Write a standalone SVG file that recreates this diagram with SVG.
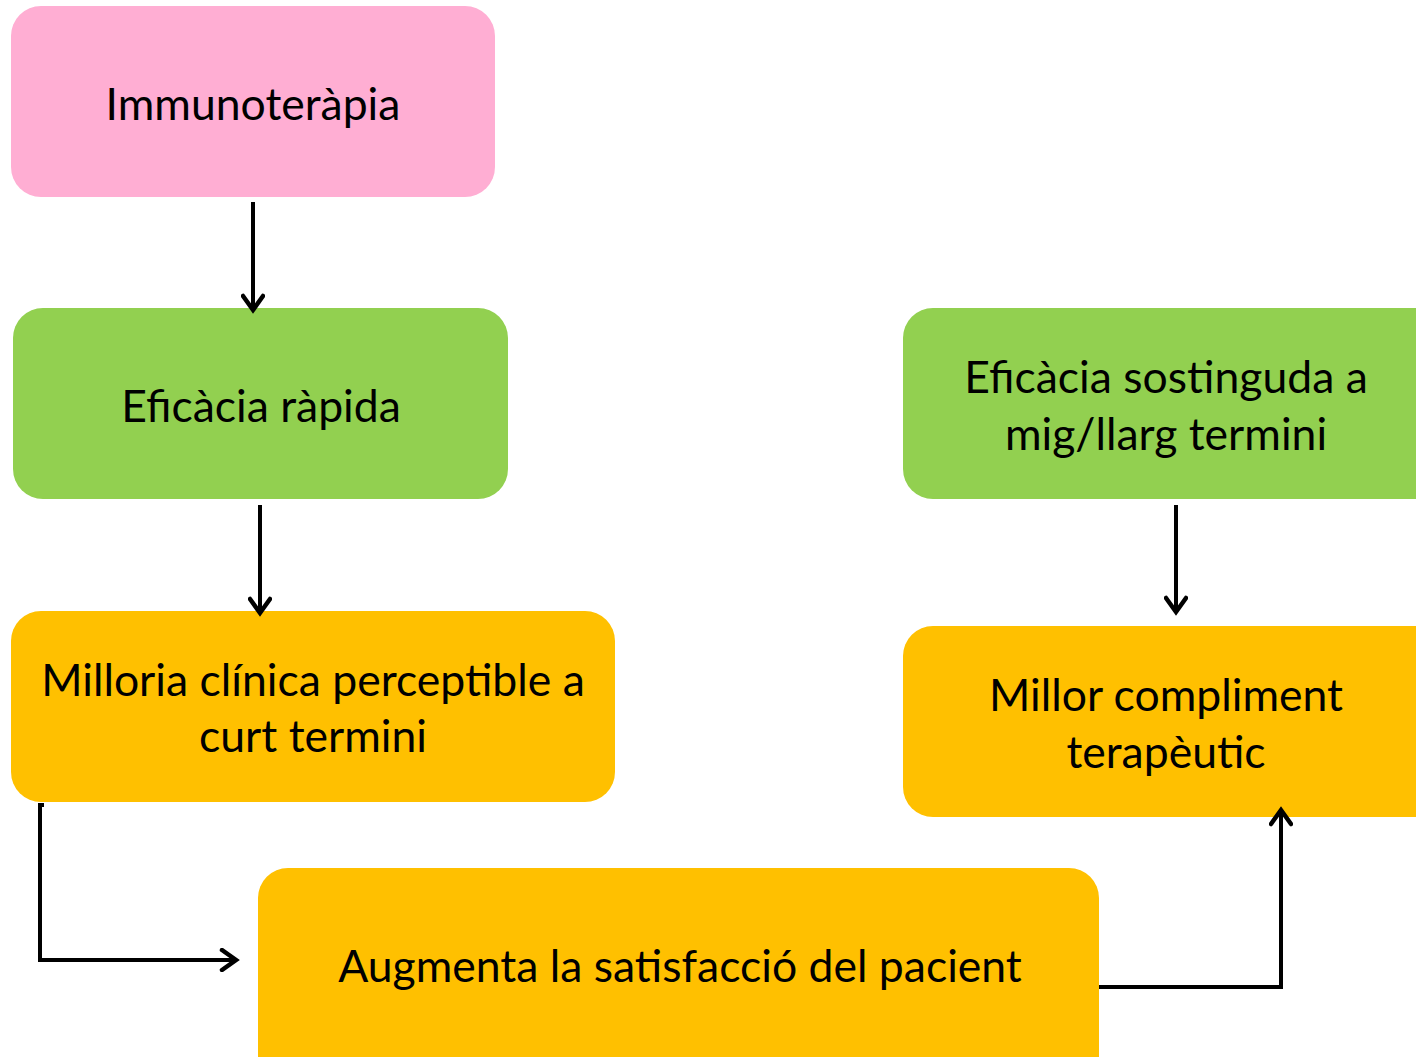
<svg xmlns="http://www.w3.org/2000/svg" width="1416" height="1057" viewBox="0 0 1416 1057">
<defs>
<style>
.pink{fill:#FFAED3}
.green{fill:#92D050}
.orange{fill:#FFC000}
text{font-family:Lato,"Open Sans","DejaVu Sans",sans-serif;font-size:44.5px;fill:#000;text-anchor:middle}
.c{fill:none;stroke:#000;stroke-width:4}
</style>
<marker id="ah" viewBox="0 0 24 24" refX="20" refY="12" markerWidth="24" markerHeight="24" markerUnits="userSpaceOnUse" orient="auto">
<path d="M6,2 L20,12 L6,22" fill="none" stroke="#000" stroke-width="4.5" stroke-linecap="round" stroke-linejoin="miter"/>
</marker>
</defs>
<rect width="1416" height="1057" fill="#fff"/>
<g id="n1"><rect class="pink" x="11" y="6" width="484" height="191" rx="30"/><text x="253" y="120">Immunoteràpia</text></g>
<g id="n2"><rect class="green" x="13" y="308" width="495" height="191" rx="30"/><text x="261" y="422">Eficàcia ràpida</text></g>
<g id="n3"><rect class="orange" x="11" y="611" width="604" height="191" rx="30"/><text x="313" y="696">Milloria clínica perceptible a</text><text x="313" y="752">curt termini</text></g>
<g id="n4"><rect class="green" x="903" y="308" width="543" height="191" rx="30"/><text x="1166" y="393">Eficàcia sostinguda a</text><text x="1166" y="450">mig/llarg termini</text></g>
<g id="n5"><rect class="orange" x="903" y="626" width="543" height="191" rx="30"/><text x="1166" y="711">Millor compliment</text><text x="1166" y="768">terapèutic</text></g>
<g id="n6"><rect class="orange" x="258" y="868" width="841" height="220" rx="30"/><text x="680" y="982">Augmenta la satisfacció del pacient</text></g>
<g id="connectors">
<path class="c" d="M253,202 V310" marker-end="url(#ah)"/>
<path class="c" d="M260,505 V613" marker-end="url(#ah)"/>
<path class="c" d="M1176,505 V612" marker-end="url(#ah)"/>
<path class="c" d="M44,805 H40 V960 H236" marker-end="url(#ah)"/>
<path class="c" d="M1099,987 H1281 V810" marker-end="url(#ah)"/>
</g>
</svg>
